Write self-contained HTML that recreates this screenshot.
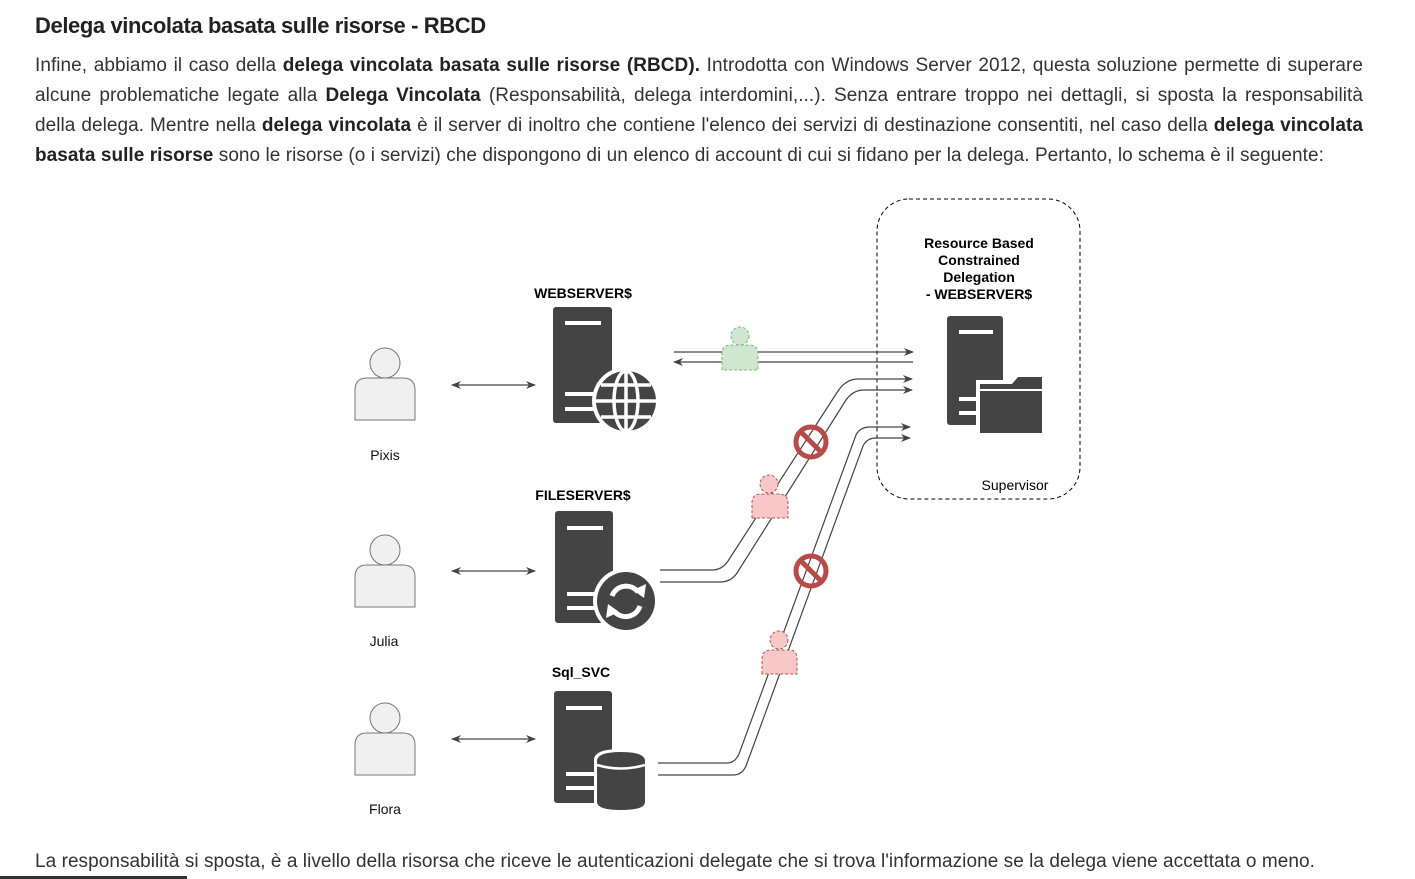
<!DOCTYPE html>
<html><head><meta charset="utf-8"><style>
body{margin:0;width:1415px;height:879px;background:#fff;font-family:"Liberation Sans",sans-serif;color:#333;position:relative;overflow:hidden}
h1{position:absolute;left:35px;top:13px;margin:0;font-size:22px;font-weight:bold;color:#222;letter-spacing:-0.4px}
.p{position:absolute;left:35px;width:1328px;font-size:19px;letter-spacing:0.05px;color:#333;white-space:nowrap}
.j{text-align:justify;text-align-last:justify;white-space:normal}
b{color:#222}
svg{position:absolute;left:0;top:0}
</style></head><body>
<h1>Delega vincolata basata sulle risorse - RBCD</h1>
<div class="p j" style="top:55px">Infine, abbiamo il caso della <b>delega vincolata basata sulle risorse (RBCD).</b> Introdotta con Windows Server 2012, questa soluzione permette di superare</div>
<div class="p j" style="top:85px">alcune problematiche legate alla <b>Delega Vincolata</b> (Responsabilità, delega interdomini,...). Senza entrare troppo nei dettagli, si sposta la responsabilità</div>
<div class="p j" style="top:115px">della delega. Mentre nella <b>delega vincolata</b> è il server di inoltro che contiene l'elenco dei servizi di destinazione consentiti, nel caso della <b>delega vincolata</b></div>
<div class="p" style="top:145px"><b>basata sulle risorse</b> sono le risorse (o i servizi) che dispongono di un elenco di account di cui si fidano per la delega. Pertanto, lo schema è il seguente:</div>
<div class="p" style="top:851px">La responsabilità si sposta, è a livello della risorsa che riceve le autenticazioni delegate che si trova l'informazione se la delega viene accettata o meno.</div>
<div style="position:absolute;left:0;top:876px;width:187px;height:3px;background:#333"></div>
<svg width="1415" height="879" font-family="Liberation Sans, sans-serif">
<defs>
<marker id="ar" markerWidth="10" markerHeight="8" refX="9" refY="4" orient="auto" markerUnits="userSpaceOnUse"><path d="M0,0 L10,4 L0,8 L3,4z" fill="#444"/></marker>
<marker id="al" markerWidth="10" markerHeight="8" refX="1" refY="4" orient="auto" markerUnits="userSpaceOnUse"><path d="M10,0 L0,4 L10,8 L7,4z" fill="#444"/></marker>
<g id="usr"><circle cx="0" cy="-22" r="15" fill="#f0f0f0" stroke="#777"/><path d="M-30,35 V5 Q-30,-7 -18,-7 H18 Q30,-7 30,5 V35z" fill="#f0f0f0" stroke="#777"/></g>
</defs>
<use href="#usr" x="385" y="385"/>
<use href="#usr" x="385" y="572"/>
<use href="#usr" x="385" y="740"/>
<g font-size="14" fill="#111" text-anchor="middle">
<text x="385" y="460">Pixis</text><text x="384" y="646">Julia</text><text x="385" y="814">Flora</text>
</g>
<g stroke="#444" stroke-width="1.2" marker-start="url(#al)" marker-end="url(#ar)">
<line x1="452" y1="385" x2="535" y2="385"/><line x1="452" y1="571" x2="535" y2="571"/><line x1="452" y1="739" x2="535" y2="739"/>
</g>
<g font-size="14" font-weight="bold" fill="#000" text-anchor="middle">
<text x="583" y="298">WEBSERVER$</text><text x="583" y="500">FILESERVER$</text><text x="581" y="677">Sql_SVC</text>
</g>
<rect x="553" y="307" width="59" height="116" rx="3" fill="#444"/>
<rect x="565" y="321" width="36" height="4" fill="#fff"/>
<rect x="565" y="392" width="30" height="4" fill="#fff"/><rect x="565" y="407" width="30" height="4" fill="#fff"/>
<circle cx="626" cy="401" r="34" fill="#fff"/><circle cx="626" cy="401" r="30" fill="#444"/>
<g stroke="#fff" stroke-width="3.5" fill="none"><ellipse cx="626" cy="401" rx="12" ry="30"/><line x1="626" y1="371" x2="626" y2="431"/><line x1="596" y1="401" x2="656" y2="401"/><path d="M601,385 H651 M601,417 H651"/></g>
<rect x="555" y="511" width="58" height="112" rx="3" fill="#444"/>
<rect x="567" y="526" width="36" height="4" fill="#fff"/>
<rect x="567" y="592" width="30" height="4" fill="#fff"/><rect x="567" y="606" width="30" height="4" fill="#fff"/>
<circle cx="626" cy="601" r="33" fill="#fff"/><circle cx="626" cy="601" r="29" fill="#444"/>
<g stroke="#fff" stroke-width="5" fill="none"><path d="M612,596 A15,15 0 0 1 638,592"/><path d="M640,606 A15,15 0 0 1 614,611"/></g>
<path d="M633,590 L646,584 L644,598z M619,612 L606,618 L608,604z" fill="#fff"/>
<rect x="554" y="691" width="58" height="112" rx="3" fill="#444"/>
<rect x="566" y="706" width="36" height="4" fill="#fff"/>
<rect x="566" y="772" width="30" height="4" fill="#fff"/><rect x="566" y="786" width="30" height="4" fill="#fff"/>
<path d="M594,760 Q594,749 621,749 Q648,749 648,760 V803 Q648,813 621,813 Q594,813 594,803z" fill="#fff"/>
<path d="M597,761 Q597,752 621,752 Q645,752 645,761 V802 Q645,810 621,810 Q597,810 597,802z" fill="#444"/>
<path d="M597,765 Q621,772 645,765" stroke="#fff" stroke-width="2.5" fill="none"/>
<rect x="877" y="199" width="203" height="300" rx="32" fill="none" stroke="#000" stroke-dasharray="4,3"/>
<g font-size="14" font-weight="bold" fill="#000" text-anchor="middle">
<text x="979" y="248">Resource Based</text><text x="979" y="265">Constrained</text><text x="979" y="282">Delegation</text><text x="979" y="299">- WEBSERVER$</text>
</g>
<text x="1015" y="490" font-size="14" fill="#000" text-anchor="middle">Supervisor</text>
<rect x="947" y="316" width="56" height="109" rx="3" fill="#444"/>
<rect x="959" y="330" width="34" height="4" fill="#fff"/>
<rect x="959" y="397" width="28" height="4" fill="#fff"/><rect x="959" y="411" width="28" height="4" fill="#fff"/>
<path d="M976,380 H1010 L1016,373 H1044 V436 H976z" fill="#fff"/>
<path d="M980,384 H1012 L1018,377 H1042 V433 H980z" fill="#444"/>
<path d="M980,390 H1042" stroke="#fff" stroke-width="2"/>
<g stroke="#444" stroke-width="1.2" fill="none">
<line x1="674" y1="352" x2="913" y2="352" marker-end="url(#ar)"/>
<line x1="913" y1="362" x2="674" y2="362" marker-end="url(#ar)"/>
<path d="M660,570 H712 Q722,570 728,561 L838,391 Q846,379 858,379 H912" marker-end="url(#ar)"/>
<path d="M660,582 H720 Q731,582 737,573 L846,400 Q853,390 864,390 H912" marker-end="url(#ar)"/>
<path d="M658,763 H727 Q735,763 739,754 L856,435 Q860,427 870,427 H910" marker-end="url(#ar)"/>
<path d="M658,775 H733 Q742,775 746,766 L863,446 Q867,438 876,438 H910" marker-end="url(#ar)"/>
</g>
<g fill="#cfe6cf" stroke="#7cb87c" stroke-dasharray="3,2">
<circle cx="740" cy="336" r="9"/><path d="M722,370 V354 Q722,345 731,345 H749 Q758,345 758,354 V370z"/>
</g>
<g fill="#f8c8c8" stroke="#b85450" stroke-dasharray="3,2">
<circle cx="769" cy="484" r="9"/><path d="M752,518 V503 Q752,494 761,494 H779 Q788,494 788,503 V518z"/>
<circle cx="779" cy="640" r="9"/><path d="M762,674 V659 Q762,650 771,650 H789 Q797,650 797,659 V674z"/>
</g>
<g stroke="#b94a48" stroke-width="5" fill="none">
<circle cx="811" cy="442" r="15"/><line x1="801" y1="432" x2="821" y2="452"/>
<circle cx="811" cy="571" r="15"/><line x1="801" y1="561" x2="821" y2="581"/>
</g>
</svg>
</body></html>
